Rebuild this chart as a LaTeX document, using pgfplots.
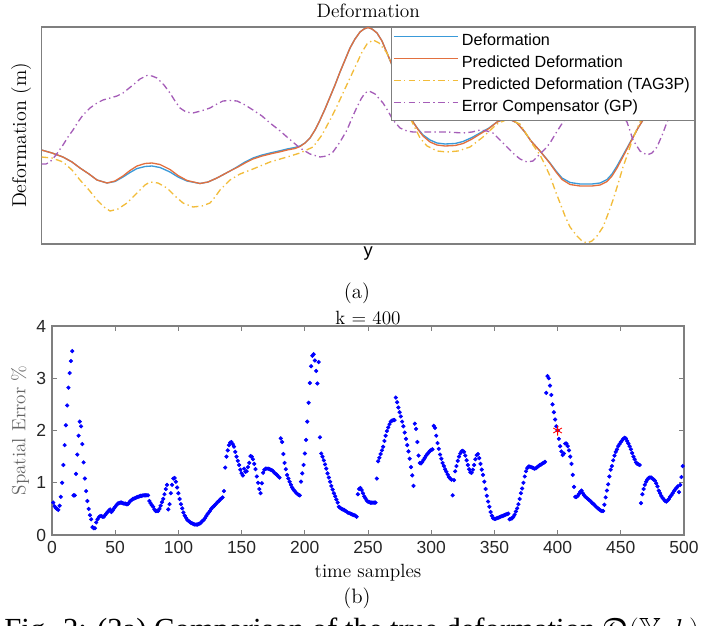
\documentclass[border=0pt]{standalone}
\usepackage{pgfplots}
\pgfplotsset{compat=1.18}
\usepackage{amssymb}
\usepackage{fontspec}
\newfontfamily\helv{Liberation Sans}
\newfontfamily\capfont{Liberation Serif}

\definecolor{cBlue}{HTML}{3A9AD9}
\definecolor{cOrange}{HTML}{E2703F}
\definecolor{cYellow}{HTML}{F2BC3A}
\definecolor{cPurple}{HTML}{A55DB8}
\definecolor{axgray}{HTML}{7F7F7F}

\begin{document}
\begin{tikzpicture}
\path[use as bounding box] (0,0) rectangle (427.8pt,375pt);
\clip (0,0) rectangle (427.8pt,375pt);

% ---------- (a) deformation profiles ----------
\begin{axis}[
  at={(24.9pt,228.6pt)}, anchor=south west,
  scale only axis, width=392.1pt, height=130.2pt,
  xmin=41.5, xmax=695, ymin=27, ymax=244, y dir=reverse,
  xtick=\empty, ytick=\empty,
  axis line style={axgray, line width=0.8pt},
  title={Deformation},
  % title is pushed up by a further 6pt by pgfplots
  title style={at={(axis description cs:0.5,1.0276)}, anchor=center, yshift=0pt,
               font=\fontsize{11.6}{13}\selectfont},
  xlabel={y},
  xlabel style={at={(axis description cs:0.5,-0.045)}, anchor=center,
                font=\helv\fontsize{11}{13}\selectfont},
  ylabel={Deformation (m)},
  ylabel style={at={(axis description cs:-0.031,0.5)}, anchor=center,
                font=\fontsize{12}{14}\selectfont},
  legend cell align=left,
  legend style={at={(1,1)}, anchor=north east, draw=axgray, fill=white,
                line width=0.6pt, inner xsep=1pt, inner ysep=1.5pt,
                font=\helv\fontsize{9.7}{11}\selectfont,
                nodes={inner xsep=1.8pt, inner ysep=1.9pt, text height=7.4pt, text depth=2.0pt}},
  legend image code/.code={\draw[#1] (-3.6pt,2.6pt) -- (35pt,2.6pt);},
  every axis plot/.append style={line width=0.8pt},
]
\addplot[cBlue] coordinates {
(41.5,150)(52,153)(63,157)(72,162)(80,168)(89,174)(97,180)(107,183)(115,181.5)(123,177)
(130,172.5)(137,168.5)(145,166.5)(152,166)(160,167.5)(170,172)(178,177)(187,181)(200,183.5)
(208,182)(217,178)(230,171)(237,167)(245,162)(253,158)(262,155)(270,153)(279,151)(287,149)
(295,147.5)(300,146)(305,143)(310,138)(315,130)(320,120)(325,109)(330,97)(335,85)(340,72)
(345,60)(350,48)(355,39)(360,32)(364,29)(368,27.5)(372,29)(377,33)(382,41)(387,53)(392,65)
(397,78)(401,90)(405,102)(409,113)(413,122)(418,129)(423,135)(430,140)(437,143)(445,144)
(455,143.5)(463,141.5)(472,137.5)(480,133)(489,128)(497,122)(507,118)(517,123)(524,131)
(531,141)(540,151)(550,163)(556,171)(562,178)(570,182.5)(580,184)(592,184)(600,183)
(607,179.5)(612,174)(617,166)(622,157)(627,148)(633,137)(638,128)(643,120)(655,102)(670,83)(695,60)};
\addlegendentry{Deformation}
\addplot[cOrange] coordinates {
(41.5,150)(52,153)(63,157)(72,162)(80,168)(89,174)(97,180)(107,183)(115,181)(123,176)
(130,170.5)(137,166)(145,163.5)(152,163)(160,164.5)(170,169.5)(178,175.5)(187,180.5)(200,183.5)
(208,182)(217,178)(230,171)(237,167.5)(245,163)(253,159)(262,156)(270,154)(279,152)(287,150)
(295,148.5)(300,146.5)(305,143)(310,138)(315,130)(320,120)(325,109)(330,97)(335,85)(340,72)
(345,60)(350,48)(355,39)(360,32)(364,29)(368,27.5)(372,29)(377,33)(382,41)(387,53)(392,65)
(397,78)(401,90)(405,102)(409,113)(413,122)(418,129.5)(423,136)(430,142)(437,145)(445,146)
(455,145.5)(463,143.5)(472,139)(480,134)(489,128.5)(497,122)(507,118)(517,123)(524,131)
(531,141)(540,151)(550,163.5)(556,172)(562,179.5)(570,184.5)(580,186)(592,186)(600,185)
(607,181.5)(612,176)(617,168)(622,158.5)(627,149)(633,137.5)(638,128)(643,120)(655,102)(670,83)(695,60)};
\addlegendentry{Predicted Deformation}
\addplot[cYellow, dash pattern=on 4pt off 2pt on 0.8pt off 2pt] coordinates {
(41.5,157)(52,158)(63,162)(72,170)(80,180)(89,190)(97,200)(104,207)(110,211)(118,209)
(127,203)(134,196)(140,190)(145,185)(150,182)(158,183)(167,188)(175,196)(183,203)(193,207)
(202,206)(210,203)(215,197)(220,190)(230,180)(240,174)(253,169)(270,162)(287,157)(300,153)
(313,147)(322,135)(330,120)(337,106)(343,93)(350,78)(357,63)(362,52)(367,44)(373,40)
(379,43)(387,53)(392,65)(397,80)(405,105)(412,122)(420,138)(427,146)(437,151)(447,152)
(458,151)(470,147)(483,137)(497,124)(508,119)(520,124)(527,135)(533,145)(540,155)(545,165)
(550,176)(555,190)(560,203)(565,216)(570,227)(577,236)(582,241)(587,243)(592,241)(597,236)
(603,227)(608,214)(613,200)(618,184)(623,167)(628,153)(632,141)(636,131)(640,122)(655,100)(670,80)(695,58)};
\addlegendentry{Predicted Deformation (TAG3P)}
\addplot[cPurple, dash pattern=on 4pt off 2pt on 0.8pt off 2pt] coordinates {
(41.5,164)(46,164)(50,162)(56,155)(63,145)(68,137)(73,130)(78,122)(83,115)(90,108)
(97,103)(103,100)(110,98)(117,96)(123,93)(128,89)(133,85)(140,79)(147,75.5)(152,76)
(157,78)(164,85)(170,93)(175,101)(180,108)(186,112)(193,113)(201,111)(210,108)(217,104)
(223,101)(230,100.5)(237,101)(245,105)(253,110)(262,116)(270,123)(279,130)(287,137)(294,143)
(300,148)(310,154)(320,157)(327,156)(333,152)(340,142)(347,130)(352,118)(357,107)(361,99)
(365,93)(369,91)(375,94)(383,103)(388,111)(393,120)(400,128)(407,131)(413,132)(430,132)
(447,132)(463,133)(472,132)(480,130)(487,131)(493,133)(500,140)(507,147)(514,154)(520,159)
(527,162)(533,161)(540,154)(545,149)(550,143)(556,133)(563,122)(572,110)(580,103)(595,99)
(610,104)(620,113)(627,122)(633,140)(640,151)(647,155)(652,153)(657,147)(660,140)(663,133)
(667,122)(675,108)(685,95)(695,85)};
\addlegendentry{Error Compensator (GP)}
\end{axis}

\node[font=\fontsize{12.5}{14}\selectfont] at (214.2pt,199.2pt) {(a)};

% ---------- (b) spatial error ----------
\begin{axis}[
  at={(31.2pt,54pt)}, anchor=south west,
  scale only axis, width=379.2pt, height=125.4pt,
  xmin=0, xmax=500, ymin=0, ymax=4,
  xtick={0,50,...,500}, ytick={0,1,2,3,4},
  tick align=inside, major tick length=3.2pt,
  tick style={axgray, line width=0.6pt},
  axis line style={axgray, line width=0.8pt},
  /pgf/number format/assume math mode=true,
  tick label style={font=\helv\fontsize{10.5}{12}\selectfont, text=black!85},
  title={k = 400},
  title style={at={(axis description cs:0.5,0.992)}, anchor=center, yshift=0pt,
               font=\fontsize{11.5}{13}\selectfont},
  xlabel={time samples},
  xlabel style={at={(axis description cs:0.5,-0.182)}, anchor=center,
                font=\fontsize{11.5}{13}\selectfont},
  ylabel={Spatial Error \%},
  ylabel style={at={(axis description cs:-0.0506,0.5)}, anchor=center,
                font=\fontsize{11.5}{13}\selectfont, text=black!60},
]
\addplot[only marks, mark=*, mark size=1.05pt, color=blue] coordinates {
(1,0.62)(2,0.55)(3,0.52)(4,0.50)(5,0.48)(6,0.56)(7,0.73)(8,1.00)(9,1.34)(10,1.72)
(11,2.10)(12,2.48)(13,2.82)(14,3.10)(15,3.33)(16,3.52)(17,0.76)(18,0.76)(19,1.17)(20,1.54)
(21,1.90)(22,2.17)(23,2.08)(24,1.74)(25,1.39)(26,1.08)(27,0.84)(28,0.65)(29,0.50)(30,0.38)
(31,0.30)(32,0.15)(33,0.13)(34,0.13)(35,0.24)(36,0.30)(37,0.34)(38,0.36)(39,0.36)(40,0.35)
(41,0.35)(42,0.38)(43,0.41)(44,0.44)(45,0.47)(46,0.49)(47,0.44)(48,0.47)(49,0.51)(50,0.54)
(51,0.57)(52,0.60)(53,0.61)(54,0.62)(55,0.62)(56,0.61)(57,0.60)(58,0.60)(59,0.59)(60,0.59)
(61,0.62)(62,0.65)(63,0.67)(64,0.69)(65,0.70)(66,0.71)(67,0.72)(68,0.73)(69,0.74)(70,0.75)
(71,0.75)(72,0.76)(73,0.76)(74,0.76)(75,0.76)(76,0.76)(77,0.65)(78,0.61)(79,0.57)(80,0.54)
(81,0.49)(82,0.46)(83,0.46)(84,0.46)(85,0.50)(86,0.56)(87,0.63)(88,0.69)(89,0.78)(90,0.88)
(91,0.96)(92,0.49)(93,0.59)(94,0.80)(95,0.96)(96,1.08)(97,1.09)(98,1.02)(99,0.91)(100,0.80)
(101,0.69)(102,0.59)(103,0.51)(104,0.43)(105,0.37)(106,0.33)(107,0.29)(108,0.27)(109,0.25)(110,0.23)
(111,0.22)(112,0.21)(113,0.20)(114,0.20)(115,0.20)(116,0.21)(117,0.22)(118,0.24)(119,0.27)(120,0.29)
(121,0.32)(122,0.36)(123,0.40)(124,0.43)(125,0.46)(126,0.50)(127,0.53)(128,0.55)(129,0.58)(130,0.60)
(131,0.63)(132,0.65)(133,0.68)(134,0.70)(135,0.72)(136,0.84)(137,1.29)(138,1.50)(139,1.62)(140,1.72)
(141,1.77)(142,1.78)(143,1.74)(144,1.69)(145,1.59)(146,1.50)(147,1.42)(148,1.34)(149,1.25)(150,1.18)
(151,1.14)(152,1.27)(153,1.21)(154,1.22)(155,1.30)(156,1.38)(157,1.51)(158,1.50)(159,1.45)(160,1.36)
(161,1.26)(162,1.12)(163,1.00)(164,0.88)(165,0.80)(166,0.99)(167,1.19)(168,1.25)(169,1.27)(170,1.27)
(171,1.27)(172,1.26)(173,1.25)(174,1.24)(175,1.22)(176,1.19)(177,1.17)(178,1.15)(179,1.12)(180,1.10)
(181,1.85)(182,1.78)(183,1.55)(184,1.38)(185,1.26)(186,1.15)(187,1.08)(188,1.02)(189,0.96)(190,0.91)
(191,0.87)(192,0.84)(193,0.81)(194,0.79)(195,0.77)(196,0.76)(197,1.02)(198,1.18)(199,1.34)(200,1.56)
(201,1.82)(202,2.17)(203,2.53)(204,2.91)(205,3.23)(206,3.43)(207,3.46)(208,3.34)(209,3.14)(210,2.90)
(211,3.31)(212,1.87)(213,1.56)(214,1.50)(215,1.43)(216,1.35)(217,1.27)(218,1.18)(219,1.10)(220,1.02)
(221,0.94)(222,0.87)(223,0.80)(224,0.74)(225,0.68)(226,0.62)(227,0.54)(228,0.52)(229,0.50)(230,0.49)
(231,0.48)(232,0.46)(233,0.45)(234,0.43)(235,0.42)(236,0.41)(237,0.40)(238,0.39)(239,0.38)(240,0.37)
(241,0.35)(242,0.78)(243,0.88)(244,0.90)(245,0.86)(246,0.80)(247,0.74)(248,0.70)(249,0.66)(250,0.64)
(251,0.63)(252,0.62)(253,0.62)(254,0.62)(255,0.62)(256,0.62)(257,1.08)(258,1.41)(259,1.48)(260,1.55)
(261,1.62)(262,1.69)(263,1.80)(264,1.90)(265,1.99)(266,2.06)(267,2.12)(268,2.17)(269,2.19)(270,2.20)
(271,2.20)(272,2.63)(273,2.54)(274,2.44)(275,2.35)(276,2.27)(277,2.17)(278,2.08)(279,1.96)(280,1.84)
(281,1.72)(282,1.60)(283,1.46)(284,1.30)(285,1.14)(286,0.94)(287,2.13)(288,2.03)(289,1.78)(290,1.52)
(291,1.38)(292,1.37)(293,1.40)(294,1.44)(295,1.48)(296,1.52)(297,1.55)(298,1.58)(299,1.61)(300,1.63)
(301,1.64)(302,2.09)(303,2.05)(304,1.90)(305,1.76)(306,1.65)(307,1.54)(308,1.46)(309,1.38)(310,1.32)
(311,1.26)(312,1.21)(313,1.16)(314,1.11)(315,1.08)(316,1.06)(317,0.76)(318,1.05)(319,1.22)(320,1.32)
(321,1.42)(322,1.50)(323,1.56)(324,1.60)(325,1.61)(326,1.59)(327,1.52)(328,1.43)(329,1.34)(330,1.26)
(331,1.20)(332,1.19)(333,1.25)(334,1.34)(335,1.45)(336,1.53)(337,1.55)(338,1.47)(339,1.36)(340,1.25)
(341,1.15)(342,1.02)(343,0.88)(344,0.75)(345,0.64)(346,0.54)(347,0.44)(348,0.37)(349,0.32)(350,0.31)
(351,0.31)(352,0.32)(353,0.33)(354,0.34)(355,0.35)(356,0.36)(357,0.37)(358,0.38)(359,0.39)(360,0.40)
(361,0.41)(362,0.30)(363,0.31)(364,0.32)(365,0.35)(366,0.39)(367,0.45)(368,0.51)(369,0.59)(370,0.69)
(371,0.80)(372,0.89)(373,1.00)(374,1.12)(375,1.22)(376,1.28)(377,1.31)(378,1.31)(379,1.30)(380,1.29)
(381,1.28)(382,1.27)(383,1.28)(384,1.30)(385,1.32)(386,1.34)(387,1.35)(388,1.37)(389,1.38)(390,1.40)
(391,2.72)(392,3.04)(393,3.00)(394,2.86)(395,2.68)(396,2.50)(397,2.35)(398,2.21)(399,2.08)(400,2.00)
(401,1.84)(402,1.70)(403,1.60)(404,1.53)(405,1.56)(406,1.75)(407,1.75)(408,1.70)(409,1.62)(410,1.50)
(411,1.36)(412,1.15)(413,0.92)(414,0.73)(415,0.73)(416,0.75)(417,0.79)(418,0.83)(419,0.85)(420,0.80)
(421,0.76)(422,0.73)(423,0.71)(424,0.69)(425,0.67)(426,0.65)(427,0.62)(428,0.60)(429,0.58)(430,0.55)
(431,0.53)(432,0.51)(433,0.49)(434,0.47)(435,0.46)(436,0.46)(437,0.58)(438,0.72)(439,0.85)(440,0.97)
(441,1.12)(442,1.25)(443,1.32)(444,1.43)(445,1.52)(446,1.59)(447,1.64)(448,1.70)(449,1.74)(450,1.78)
(451,1.81)(452,1.84)(453,1.86)(454,1.85)(455,1.80)(456,1.75)(457,1.70)(458,1.64)(459,1.57)(460,1.50)
(461,1.45)(462,1.39)(463,1.36)(464,1.35)(465,1.34)(466,0.61)(467,0.78)(468,0.88)(469,0.96)(470,1.02)
(471,1.06)(472,1.09)(473,1.10)(474,1.10)(475,1.08)(476,1.06)(477,1.04)(478,0.99)(479,0.93)(480,0.85)
(481,0.80)(482,0.75)(483,0.71)(484,0.68)(485,0.65)(486,0.64)(487,0.66)(488,0.69)(489,0.73)(490,0.76)
(491,0.80)(492,0.84)(493,0.87)(494,0.90)(495,0.93)(496,0.82)(497,0.96)(498,1.11)(499,1.32)};
\addplot[only marks, mark=asterisk, mark size=3pt, color=red, line width=0.5pt] coordinates {(400,2.00)};
\end{axis}

\node[font=\fontsize{12.5}{14}\selectfont] at (214.2pt,16.2pt) {(b)};
\node[anchor=base west, inner sep=0pt, font=\capfont\fontsize{18.4}{20}\selectfont]
  at (2.4pt,-8.4pt) {Fig. 2: (2a) Comparison of the true deformation $\mathfrak{D}(\mathbb{Y},k)$};
\end{tikzpicture}
\end{document}
